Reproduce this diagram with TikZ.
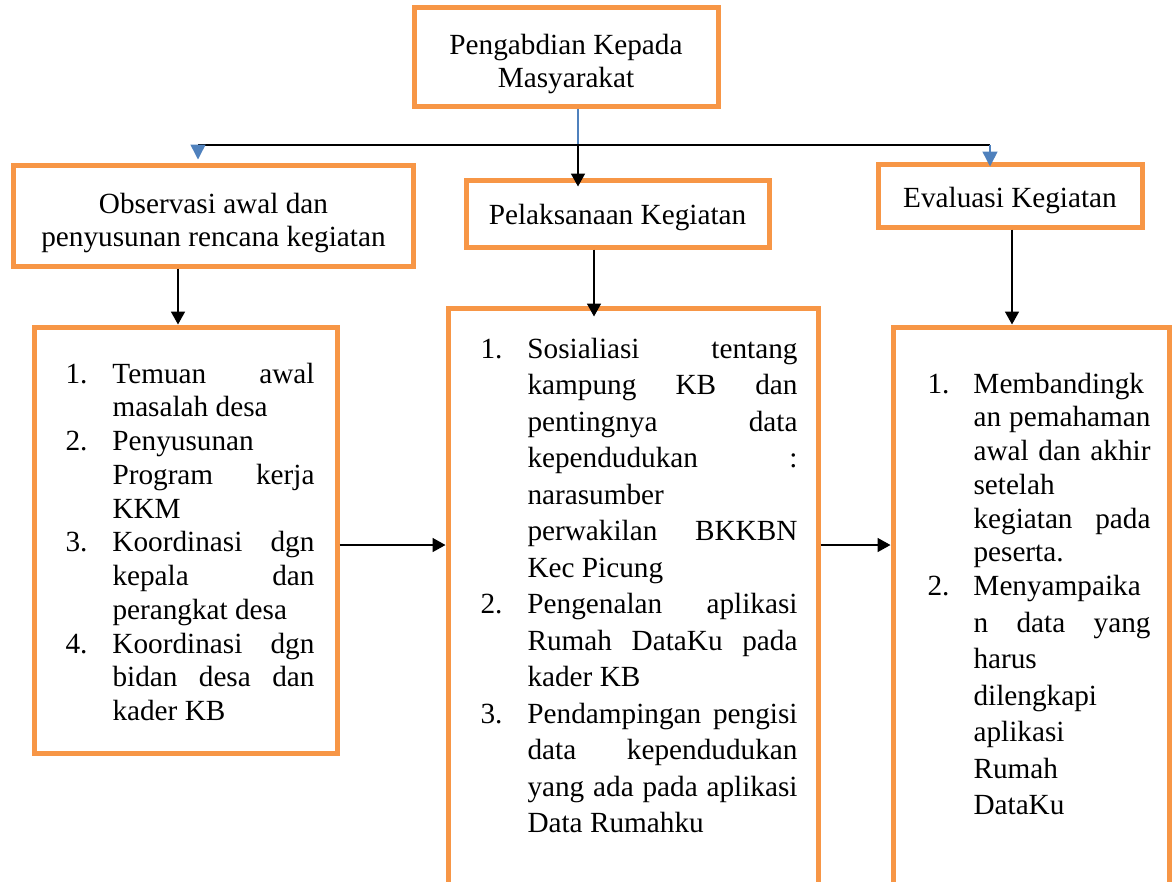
\documentclass[tikz,border=0pt]{standalone}
\usepackage{fontspec}
\setmainfont{Liberation Serif}
\usetikzlibrary{arrows.meta,positioning}
\definecolor{boxorange}{HTML}{F79646}
\definecolor{linkblue}{HTML}{4F81BD}
\newlength\itemw
\newcommand\jst[1]{\makebox[\itemw][s]{#1}}
\newcommand\pad[1]{\rule{0pt}{#1}}
\tikzset{
  box/.style={draw=boxorange, line width=2pt, inner sep=0pt, align=center, font=\fontsize{11.7}{13.2}\selectfont},
  listtext/.style={inner sep=0pt, anchor=base west},
  arr/.style={-{Triangle[width=5.6pt,length=5.2pt]}, line width=0.7pt},
  bluearr/.style={-{Triangle[width=6pt,length=6pt]}, draw=linkblue, fill=linkblue, line width=0.6pt}
}
\begin{document}
\begin{tikzpicture}[x=0.4pt,y=-0.4pt]
  \useasboundingbox (0,0) rectangle (1172,881);
  \clip (0,0) rectangle (1172,881);
  % header boxes
  \node[box, minimum width=121.6pt, minimum height=39.6pt] (pkm) at (566,56.5) {\pad{14.5pt}Pengabdian Kepada\\Masyarakat};
  \node[box, minimum width=159.6pt, minimum height=40.4pt] (observasi) at (213.5,215.5) {\pad{14.5pt}Observasi awal dan\\penyusunan rencana kegiatan};
  \node[box, minimum width=121.2pt, minimum height=26.8pt] (pelaksanaan) at (617.5,213.5) {\pad{11.5pt}Pelaksanaan Kegiatan};
  \node[box, minimum width=105.6pt, minimum height=25.2pt] (evaluasi) at (1010,195.5) {\pad{11.8pt}Evaluasi Kegiatan};
  % lower boxes
  \node[box, minimum width=120.8pt, minimum height=170.4pt] (obsbox) at (186,540) {};
  \node[box, minimum width=148pt, minimum height=238.8pt] (pelbox) at (633,606.5) {};
  \node[box, minimum width=110.4pt, minimum height=231.2pt] (evabox) at (1031,616) {};
  % lists
  \node[listtext, font=\fontsize{11.7}{13.5}\selectfont] (temuan) at (65,383) {\setlength\itemw{80.8pt}%
    \begin{tabular}[t]{@{}p{18.8pt}@{}l@{}}
      1. & \jst{Temuan awal}\\
         & masalah desa\\
      2. & Penyusunan\\
         & \jst{Program kerja}\\
         & KKM\\
      3. & \jst{Koordinasi dgn}\\
         & \jst{kepala dan}\\
         & perangkat desa\\
      4. & \jst{Koordinasi dgn}\\
         & \jst{bidan desa dan}\\
         & kader KB
    \end{tabular}};
  \node[listtext, font=\fontsize{11.7}{14.6}\selectfont] (sosialisasi) at (480,358) {\setlength\itemw{108pt}%
    \begin{tabular}[t]{@{}p{18.8pt}@{}l@{}}
      1. & \jst{Sosialiasi tentang}\\
         & \jst{kampung KB dan}\\
         & \jst{pentingnya data}\\
         & \jst{kependudukan :}\\
         & narasumber\\
         & \jst{perwakilan BKKBN}\\
         & Kec Picung\\
      2. & \jst{Pengenalan aplikasi}\\
         & \jst{Rumah DataKu pada}\\
         & kader KB\\
      3. & \jst{Pendampingan pengisi}\\
         & \jst{data kependudukan}\\
         & \jst{yang ada pada aplikasi}\\
         & Data Rumahku
    \end{tabular}};
  \node[listtext, font=\fontsize{11.7}{13.5}\selectfont] (banding) at (927,393) {\setlength\itemw{70.8pt}%
    \begin{tabular}[t]{@{}p{18.4pt}@{}l@{}}
      1. & Membandingk\\
         & \jst{an pemahaman}\\
         & \jst{awal dan akhir}\\
         & setelah\\
         & \jst{kegiatan pada}\\
         & peserta.\\
      2. & Menyampaika\\[1.1pt]
         & \jst{n data yang}\\[1.1pt]
         & harus\\[1.1pt]
         & dilengkapi\\[1.1pt]
         & aplikasi\\[1.1pt]
         & Rumah\\[1.1pt]
         & DataKu
    \end{tabular}};
  % connectors
  \coordinate (split) at (578,145);
  \coordinate (lend) at (198,145);
  \coordinate (rend) at (990,145);
  \coordinate (row) at (0,545);
  \draw[linkblue, line width=0.6pt] (pkm.south -| split) -- (split);
  \draw[line width=0.6pt] (lend) -- (rend);
  \draw[arr, shorten >=-3.6pt] (split) -- (split |- pelaksanaan.north);
  \draw[bluearr, shorten >=1.2pt] (lend) -- (lend |- observasi.north);
  \draw[bluearr, shorten >=-2pt] (rend) -- (rend |- evaluasi.north);
  \draw[arr] ([xshift=-14.2pt]observasi.south) coordinate (d1) -- (d1 |- obsbox.north);
  \draw[arr, shorten >=-4.4pt] ([xshift=-9.4pt]pelaksanaan.south) coordinate (d2) -- (d2 |- pelbox.north);
  \draw[arr] ([xshift=0.8pt]evaluasi.south) coordinate (d3) -- (d3 |- evabox.north);
  \draw[arr] (obsbox.east |- row) -- (pelbox.west |- row);
  \draw[arr] (pelbox.east |- row) -- (evabox.west |- row);
\end{tikzpicture}
\end{document}
